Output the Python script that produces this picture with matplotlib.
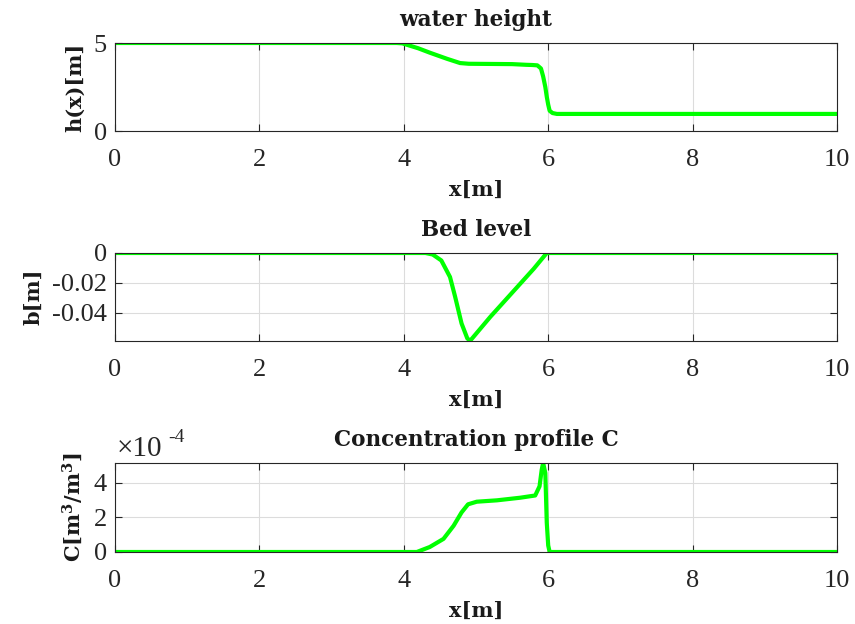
import matplotlib
matplotlib.use('Agg')
import matplotlib.pyplot as plt
from matplotlib.ticker import FuncFormatter

plt.rcParams['mathtext.fontset'] = 'dejavuserif'
plt.rcParams['font.family'] = 'Liberation Serif'

# water height h(x)
x_h = [0, 3.9, 3.98, 4.2, 4.36, 4.6, 4.78, 4.9, 5.5, 5.7, 5.78, 5.85, 5.9,
       5.93, 5.96, 5.98, 6.0, 6.02, 6.06, 6.12, 10]
h = [5, 5, 4.98, 4.7, 4.45, 4.1, 3.86, 3.82, 3.8, 3.76, 3.75, 3.73, 3.55,
     3.1, 2.5, 1.95, 1.5, 1.15, 1.02, 0.97, 0.97]

# bed level b(x)
x_b = [0, 4.3, 4.4, 4.52, 4.64, 4.71, 4.8, 4.88, 4.92, 5.2, 5.5, 5.8, 5.98, 10]
b = [0, 0, -0.001, -0.005, -0.016, -0.029, -0.047, -0.057, -0.0585,
     -0.0425, -0.0265, -0.0105, 0, 0]

# concentration C(x)
x_c = [0, 4.18, 4.36, 4.55, 4.69, 4.8, 4.89, 5.01, 5.29, 5.61, 5.82, 5.88,
       5.91, 5.93, 5.96, 5.98, 6.0, 6.02, 10]
c = [0, 0, 0.29e-4, 0.76e-4, 1.52e-4, 2.29e-4, 2.76e-4, 2.91e-4, 2.99e-4,
     3.14e-4, 3.27e-4, 3.8e-4, 4.76e-4, 5.15e-4, 4.57e-4, 1.7e-4, 0.38e-4,
     0, 0]

xticks = [0, 2, 4, 6, 8, 10]
green = (0, 1, 0)
axcol = '#262626'
tick_fs = 19
lab_fs = 15

fig = plt.figure(figsize=(8.55, 6.24), dpi=100)
left, width = 115 / 855, 722 / 855
ax1 = fig.add_axes([left, 1 - 131 / 624, width, 88 / 624])
ax2 = fig.add_axes([left, 1 - 341 / 624, width, 88 / 624])
ax3 = fig.add_axes([left, 1 - 552 / 624, width, 89 / 624])

ax1.plot(x_h, h, color=green, lw=3)
ax2.plot(x_b, b, color=green, lw=3)
ax3.plot(x_c, c, color=green, lw=3)

ax1.set_ylim(0, 5)
ax1.set_yticks([0, 5])
ax2.set_ylim(-0.0587, 0)
ax2.set_yticks([-0.04, -0.02, 0])
ax2.yaxis.set_major_formatter(FuncFormatter(lambda v, p: '0' if v == 0 else f'{v:.2f}'))
ax3.set_ylim(0, 5.15e-4)
ax3.set_yticks([0, 2e-4, 4e-4])
ax3.yaxis.set_major_formatter(FuncFormatter(lambda v, p: f'{v * 1e4:.0f}'))

titles = ['water height', 'Bed level', 'Concentration profile C']
ylabels = ['h(x)[m]', 'b[m]', r'C[m$^\mathbf{3}$/m$^\mathbf{3}$]']

for ax, t, yl in zip([ax1, ax2, ax3], titles, ylabels):
    ax.set_xlim(0, 10)
    ax.set_xticks(xticks)
    ax.grid(True, color='#dcdcdc', lw=0.8)
    ax.set_axisbelow(True)
    ax.tick_params(direction='in', length=5, width=0.8, colors=axcol,
                   labelsize=tick_fs, top=True, right=True)
    ax.tick_params(axis='x', pad=13)
    ax.tick_params(axis='y', pad=6)
    for s in ax.spines.values():
        s.set_color(axcol)
        s.set_linewidth(0.8)
    ax.set_title(t, fontsize=lab_fs + 0.5, pad=12, color='#1a1a1a',
                 family='DejaVu Serif', weight='bold')
    ax.set_xlabel('x[m]', fontsize=lab_fs, labelpad=6, color='#1a1a1a',
                  family='DejaVu Serif', weight='bold')
    ax.set_ylabel(yl, fontsize=lab_fs, labelpad=6, color='#1a1a1a',
                  family='DejaVu Serif', weight='bold')

fig.text(117 / 855, 1 - 449 / 624, '\u00d710', fontsize=tick_fs + 2, color=axcol,
         va='center', ha='left')
fig.text(168 / 855, 1 - 438 / 624, '-4', fontsize=14, color=axcol,
         va='center', ha='left')

fig.savefig('out.png', dpi=100)
